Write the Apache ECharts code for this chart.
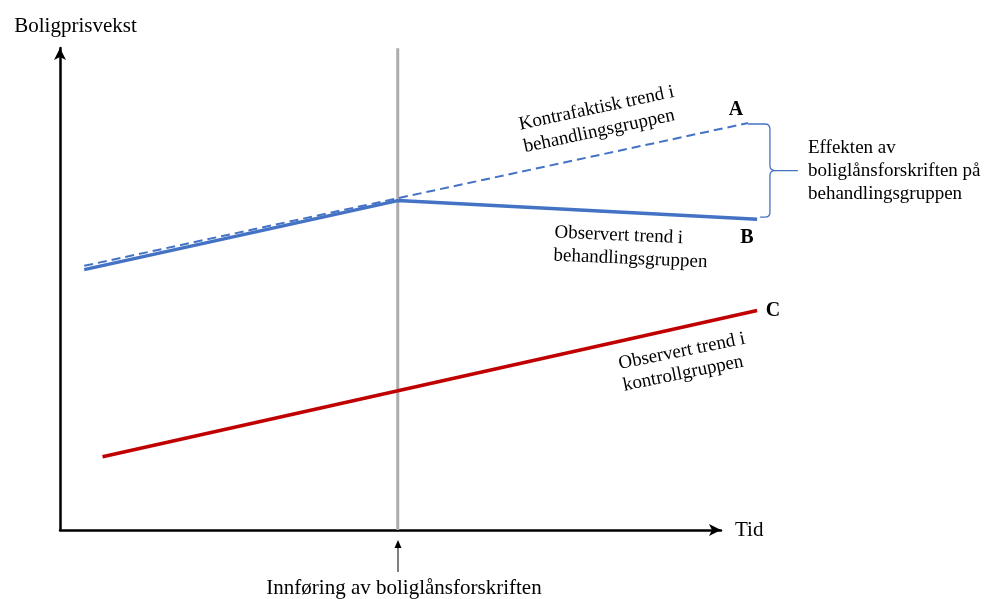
<!DOCTYPE html>
<html>
<head>
<meta charset="utf-8">
<script src="https://cdn.jsdelivr.net/npm/echarts@6/dist/echarts.min.js"></script>
<style>
html,body{margin:0;padding:0;background:#fff;}
#chart{width:985px;height:599px;}
</style>
</head>
<body>
<div id="chart"></div>
<script>
// ---- data (conceptual units: time 0-110, growth 0-100) ----
const timeObserved = [3.7, 51.6, 106.5];
const observedTreatment = [54.7, 69.2, 65.3];
const timeCounterfactual = [3.7, 51.6, 105.1];
const counterfactualTreatment = [55.5, 69.7, 85.5];
const timeControl = [6.5, 106.5];
const observedControl = [15.4, 46.1];
const introductionTime = 51.6;
const introLineSpan = [0, 101.2];

const FONT = '"Liberation Serif", "Times New Roman", serif';
const BLUE = '#4472C4';
const RED = '#C00000';

const zip = (xs, ys) => xs.map((x, i) => [x, ys[i]]);

const chart = echarts.init(document.getElementById('chart'), null, {renderer: 'canvas'});

const hiddenAxis = {
  axisLine: {show: false}, axisTick: {show: false}, axisLabel: {show: false}, splitLine: {show: false}
};

const option = {
  backgroundColor: '#ffffff',
  animation: false,
  grid: [
    {left: 60, right: 205, top: 54, bottom: 69, containLabel: false},
    {left: 60, right: 264, top: 48, bottom: 69, containLabel: false}
  ],
  xAxis: [
    Object.assign({type: 'value', gridIndex: 0, min: 0, max: 110}, hiddenAxis),
    {
      type: 'value', gridIndex: 1, min: 0, max: 100,
      name: 'Tid', nameLocation: 'end', nameGap: 14,
      nameTextStyle: {fontFamily: FONT, fontSize: 21, color: '#000'},
      axisLine: {show: true, onZero: false, symbol: ['none', 'arrow'], symbolSize: [9, 12],
        lineStyle: {color: '#000', width: 2.5}},
      axisTick: {show: false}, axisLabel: {show: false}, splitLine: {show: false}
    }
  ],
  yAxis: [
    Object.assign({type: 'value', gridIndex: 0, min: 0, max: 100}, hiddenAxis),
    {
      type: 'value', gridIndex: 1, min: 0, max: 100,
      name: 'Boligprisvekst', nameLocation: 'end', nameGap: 11,
      nameTextStyle: {fontFamily: FONT, fontSize: 21, color: '#000', padding: [0, 0, 0, 31]},
      axisLine: {show: true, onZero: false, symbol: ['none', 'arrow'], symbolSize: [9, 12],
        lineStyle: {color: '#000', width: 2.5}},
      axisTick: {show: false}, axisLabel: {show: false}, splitLine: {show: false}
    }
  ],
  series: [
    {
      name: 'Innføring', type: 'line', clip: false, showSymbol: false, silent: true,
      xAxisIndex: 0, yAxisIndex: 0,
      data: introLineSpan.map(v => [introductionTime, v]),
      lineStyle: {color: '#ADADAD', width: 3}, z: 1
    },
    {
      name: 'Kontrafaktisk', type: 'line', clip: false, showSymbol: false, silent: true,
      xAxisIndex: 0, yAxisIndex: 0,
      data: zip(timeCounterfactual, counterfactualTreatment),
      lineStyle: {color: BLUE, width: 2, type: [9, 5]}, z: 2
    },
    {
      name: 'Observert behandling', type: 'line', clip: false, showSymbol: false, silent: true,
      xAxisIndex: 0, yAxisIndex: 0,
      data: zip(timeObserved, observedTreatment),
      lineStyle: {color: BLUE, width: 3.5}, z: 3
    },
    {
      name: 'Observert kontroll', type: 'line', clip: false, showSymbol: false, silent: true,
      xAxisIndex: 0, yAxisIndex: 0,
      data: zip(timeControl, observedControl),
      lineStyle: {color: RED, width: 3.5}, z: 3
    },
    {
      name: 'Effekt', type: 'custom', clip: false, silent: true, z: 4,
      xAxisIndex: 0, yAxisIndex: 0,
      data: [[timeCounterfactual[2], counterfactualTreatment[2], timeObserved[2], observedTreatment[2]]],
      encode: {x: [0, 2], y: [1, 3]},
      renderItem: function (params, api) {
        const a = api.coord([api.value(0), api.value(1)]);
        const b = api.coord([api.value(2), api.value(3)]);
        const xb = a[0] + 22, xt = xb + 28;
        const y0 = a[1] + 1, y1 = b[1] - 2, ym = (y0 + y1) / 2;
        const x1 = b[0] + 3, r = 5;
        const d = 'M' + a[0] + ' ' + y0 +
          ' L' + (xb - r) + ' ' + y0 +
          ' Q' + xb + ' ' + y0 + ' ' + xb + ' ' + (y0 + r) +
          ' L' + xb + ' ' + (ym - r) +
          ' Q' + xb + ' ' + ym + ' ' + (xb + r) + ' ' + ym +
          ' L' + xt + ' ' + ym +
          ' M' + (xb + r) + ' ' + ym +
          ' Q' + xb + ' ' + ym + ' ' + xb + ' ' + (ym + r) +
          ' L' + xb + ' ' + (y1 - r) +
          ' Q' + xb + ' ' + y1 + ' ' + (xb - r) + ' ' + y1 +
          ' L' + x1 + ' ' + y1;
        return {type: 'path', shape: {pathData: d}, style: {stroke: BLUE, fill: 'none', lineWidth: 1.3}};
      }
    }
  ],
  graphic: [
    {type: 'text', x: 521.5, y: 136, rotation: 12 * Math.PI / 180, silent: true,
      style: {text: 'Kontrafaktisk trend i\nbehandlingsgruppen', font: '19px ' + FONT, fill: '#000',
        align: 'left', verticalAlign: 'middle', lineHeight: 23}},
    {type: 'text', x: 554, y: 244, rotation: -2.5 * Math.PI / 180, silent: true,
      style: {text: 'Observert trend i\nbehandlingsgruppen', font: '19px ' + FONT, fill: '#000',
        align: 'left', verticalAlign: 'middle', lineHeight: 23}},
    {type: 'text', x: 621, y: 375, rotation: 11.5 * Math.PI / 180, silent: true,
      style: {text: 'Observert trend i\nkontrollgruppen', font: '19px ' + FONT, fill: '#000',
        align: 'left', verticalAlign: 'middle', lineHeight: 22}},
    {type: 'text', x: 808, y: 171, silent: true,
      style: {text: 'Effekten av\nboliglånsforskriften på\nbehandlingsgruppen', font: '19px ' + FONT, fill: '#000',
        align: 'left', verticalAlign: 'middle', lineHeight: 23}},
    {type: 'text', x: 736, y: 110, silent: true,
      style: {text: 'A', font: 'bold 20px ' + FONT, fill: '#000', align: 'center', verticalAlign: 'middle'}},
    {type: 'text', x: 747, y: 238, silent: true,
      style: {text: 'B', font: 'bold 20px ' + FONT, fill: '#000', align: 'center', verticalAlign: 'middle'}},
    {type: 'text', x: 773, y: 311, silent: true,
      style: {text: 'C', font: 'bold 20px ' + FONT, fill: '#000', align: 'center', verticalAlign: 'middle'}},
    {type: 'line', silent: true, shape: {x1: 398, y1: 572, x2: 398, y2: 546},
      style: {stroke: '#000', lineWidth: 1}},
    {type: 'polygon', silent: true, shape: {points: [[398, 540], [394.5, 548], [401.5, 548]]},
      style: {fill: '#000'}},
    {type: 'text', x: 404, y: 588, silent: true,
      style: {text: 'Innføring av boliglånsforskriften', font: '21px ' + FONT, fill: '#000',
        align: 'center', verticalAlign: 'middle'}}
  ]
};

chart.setOption(option);
</script>
</body>
</html>
